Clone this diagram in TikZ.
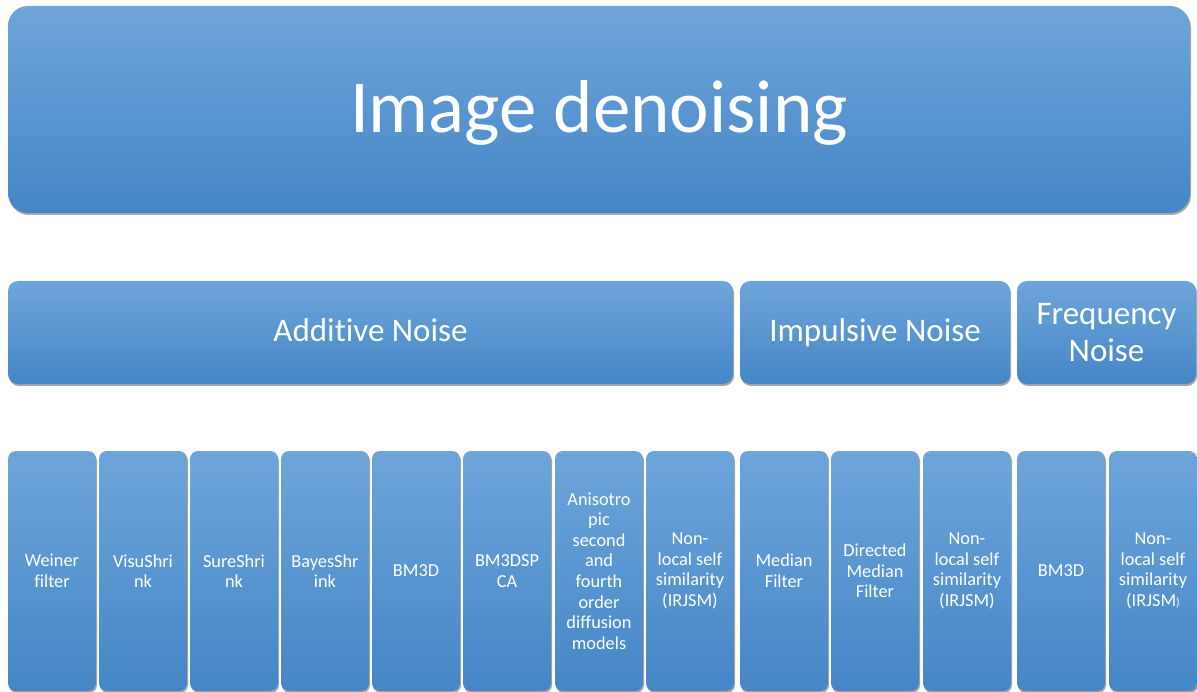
\documentclass[tikz,border=0pt]{standalone}
\usepackage{fontspec}
\setmainfont{Carlito}[Ligatures=CommonOff]
\usetikzlibrary{shadows}
\definecolor{btop}{HTML}{6EA5DB}
\definecolor{bmid}{HTML}{559BDD}
\definecolor{bbot}{HTML}{4586C6}
\tikzset{
  box/.style={rectangle, top color=btop, middle color=bmid, bottom color=bbot, draw=none,
    text=white, align=center, inner sep=0pt,
    drop shadow={shadow xshift=1pt, shadow yshift=-2pt, opacity=0.35, fill=black}},
  bigbox/.style={box, rounded corners=20pt, font=\fontsize{75}{90}\selectfont, text height=52pt, text depth=5pt},
  midbox/.style={box, rounded corners=10pt, minimum height=103pt, font=\fontsize{33}{37}\selectfont},
  onel/.style={text height=24pt, text depth=5pt},
  leafbox/.style={box, rounded corners=8pt, minimum width=88pt, minimum height=240pt, font=\fontsize{18.3}{20.6}\selectfont},
}
\begin{document}
\begin{tikzpicture}[x=1pt,y=-1pt]
\useasboundingbox (0,0) rectangle (1197,692);
\node[bigbox, minimum width=1182pt, minimum height=207pt] (root) at (599,109.5) {Image denoising};
\node[midbox, onel, minimum width=725pt] (add) at (370.5,332.5) {Additive Noise};
\node[midbox, onel, minimum width=270pt] (imp) at (875,332.5) {Impulsive Noise};
\node[midbox, minimum width=179pt] (freq) at (1106.5,332.5) {Frequency\\Noise};
\node[leafbox] (l1) at (52,571) {Weiner\\filter};
\node[leafbox] (l2) at (143,571) {VisuShri\\nk};
\node[leafbox] (l3) at (234,571) {SureShri\\nk};
\node[leafbox] (l4) at (325,571) {BayesShr\\ink};
\node[leafbox] (l5) at (416,571) {BM3D};
\node[leafbox] (l6) at (507,571) {BM3DSP\\CA};
\node[leafbox] (l7) at (599,571) {Anisotro\\pic\\second\\and\\fourth\\order\\diffusion\\models};
\node[leafbox] (l8) at (690,571) {Non-\\local self\\similarity\\(IRJSM)};
\node[leafbox] (l9) at (784,571) {Median\\Filter};
\node[leafbox] (l10) at (875,571) {Directed\\Median\\Filter};
\node[leafbox] (l11) at (967,571) {Non-\\local self\\similarity\\(IRJSM)};
\node[leafbox] (l12) at (1061,571) {BM3D};
\node[leafbox] (l13) at (1153,571) {Non-\\local self\\similarity\\(IRJSM{\fontsize{12}{12}\selectfont)}};
\end{tikzpicture}
\end{document}
